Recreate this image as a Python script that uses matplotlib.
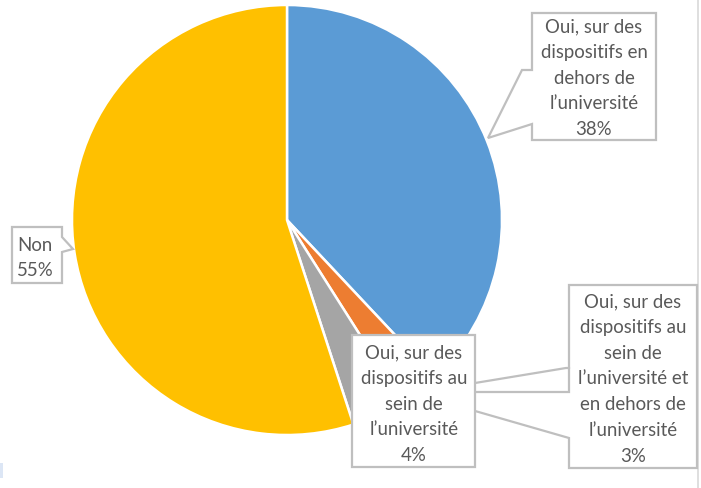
import matplotlib
matplotlib.use("Agg")
import matplotlib.pyplot as plt
from matplotlib.patches import Polygon, Rectangle

labels = [
    "Oui, sur des\ndispositifs en\ndehors de\nl\u2019universit\u00e9",
    "Oui, sur des\ndispositifs au\nsein de\nl\u2019universit\u00e9 et\nen dehors de\nl\u2019universit\u00e9",
    "Oui, sur des\ndispositifs au\nsein de\nl\u2019universit\u00e9",
    "Non",
]
values = [38, 3, 4, 55]
colors = ["#5B9BD5", "#ED7D31", "#A5A5A5", "#FFC000"]

W, H = 701, 488
fig = plt.figure(figsize=(W / 100, H / 100), dpi=100)
ax = fig.add_axes([0, 0, 1, 1])
ax.set_xlim(0, W)
ax.set_ylim(H, 0)
ax.set_aspect("equal")
ax.axis("off")

# pie (y axis inverted -> counterclock=True draws clockwise on screen)
ax.pie(values, colors=colors, center=(287, 220), radius=215, startangle=-90,
       counterclock=True, wedgeprops=dict(edgecolor="white", linewidth=1.8),
       frame=False)
ax.set_xlim(0, W)
ax.set_ylim(H, 0)
ax.axis("off")

edge = "#BFBFBF"
tcol = "#595959"
fs = 13.4
lsp = 1.62

def poly(pts, z):
    ax.add_patch(Polygon(pts, closed=True, facecolor="white", edgecolor=edge,
                         linewidth=1.6, zorder=z))

pct = [f"{v}%" for v in values]

# 38% callout
poly([(532, 13), (656, 13), (656, 140), (532, 140), (532, 124), (488, 138),
      (522, 70), (532, 70)], 5)
ax.text(594, 78, labels[0] + "\n" + pct[0], ha="center", va="center",
        fontsize=fs, color=tcol, linespacing=lsp, zorder=6, family="Lato")

# 3% callout
poly([(569, 285), (697, 285), (697, 468), (569, 468), (569, 438), (409, 392),
      (569, 392)], 5)
ax.plot([475, 566, 569], [383, 368, 368], color=edge, lw=1.6, zorder=5)
ax.text(633, 379, labels[1] + "\n" + pct[1], ha="center", va="center",
        fontsize=fs, color=tcol, linespacing=lsp, zorder=6, family="Lato")

# 4% callout
poly([(352, 335), (475, 335), (475, 467), (352, 467)], 7)
ax.text(414, 404, labels[2] + "\n" + pct[2], ha="center", va="center",
        fontsize=fs, color=tcol, linespacing=lsp, zorder=8, family="Lato")

# Non callout
poly([(12, 227), (62, 227), (62, 237), (73, 249), (62, 252), (62, 283),
      (12, 283)], 5)
ax.text(17, 258, labels[3] + "\n" + pct[3], ha="left", va="center",
        fontsize=fs, color=tcol, linespacing=lsp, zorder=6, family="Lato")

# right chart border and small mark
ax.plot([697.5, 697.5], [0, H], color="#D9D9D9", lw=1.2, zorder=1)
ax.add_patch(Rectangle((0, 463), 3, 15, facecolor="#DCE6F5", edgecolor="none"))

fig.savefig("out.png", dpi=100)
